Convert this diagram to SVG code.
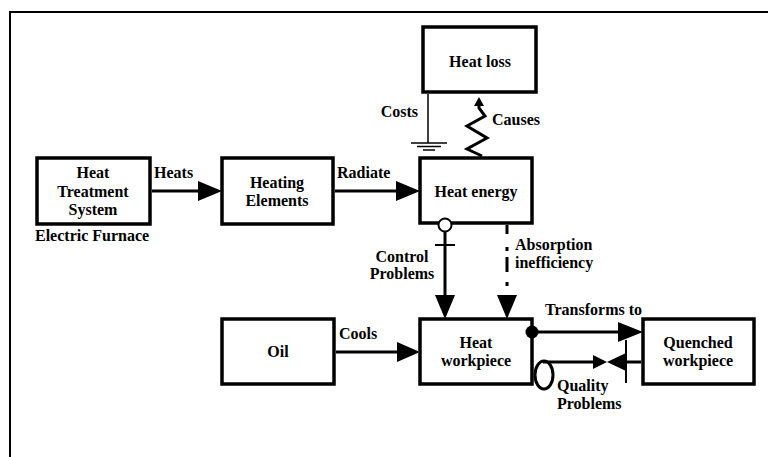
<svg xmlns="http://www.w3.org/2000/svg" width="768" height="457" viewBox="0 0 768 457">
<style>
.box{fill:#fff;stroke:#000;stroke-width:3.5}
.ln{fill:none;stroke:#000;stroke-width:3}
.t{font-family:'Liberation Serif','Times New Roman','DejaVu Serif',serif;font-weight:bold;font-size:16px;fill:#000}
.m{text-anchor:middle}
.ah{fill:#000}
</style>
<rect width="768" height="457" fill="#fff"/>
<path d="M10,457 V12 H768" fill="none" stroke="#000" stroke-width="2"/>

<g id="heat-treatment-system">
  <rect class="box" x="37" y="158" width="113" height="66"/>
  <text class="t m" x="93" y="178">Heat</text>
  <text class="t m" x="93" y="197">Treatment</text>
  <text class="t m" x="93" y="215">System</text>
  <text class="t" x="35" y="241">Electric Furnace</text>
</g>
<g id="heating-elements">
  <rect class="box" x="222" y="158" width="111" height="66"/>
  <text class="t m" x="277" y="188">Heating</text>
  <text class="t m" x="277" y="206">Elements</text>
</g>
<g id="heat-energy">
  <rect class="box" x="420" y="158" width="112" height="65"/>
  <text class="t m" x="476" y="197">Heat energy</text>
</g>
<g id="heat-loss">
  <rect class="box" x="423" y="27" width="113" height="65"/>
  <text class="t m" x="480" y="67">Heat loss</text>
</g>
<g id="oil">
  <rect class="box" x="222" y="319" width="112" height="65"/>
  <text class="t m" x="278" y="357">Oil</text>
</g>
<g id="heat-workpiece">
  <rect class="box" x="420" y="319" width="112" height="65"/>
  <text class="t m" x="476" y="348">Heat</text>
  <text class="t m" x="476" y="366">workpiece</text>
</g>
<g id="quenched-workpiece">
  <rect class="box" x="643" y="319" width="111" height="65"/>
  <text class="t m" x="698" y="348">Quenched</text>
  <text class="t m" x="698" y="366">workpiece</text>
</g>

<g id="connectors">
  <!-- Heats -->
  <line class="ln" x1="152" y1="191" x2="200" y2="191"/>
  <polygon class="ah" points="198,181 222,191 198,201"/>
  <text class="t" x="154" y="178">Heats</text>
  <!-- Radiate -->
  <line class="ln" x1="335" y1="191" x2="398" y2="191"/>
  <polygon class="ah" points="396,181 420,191 396,201"/>
  <text class="t" x="337" y="178">Radiate</text>
  <!-- Costs ground -->
  <line x1="428" y1="94" x2="428" y2="143" stroke="#000" stroke-width="1.5"/>
  <line x1="411" y1="143" x2="447" y2="143" stroke="#000" stroke-width="1.5"/>
  <line x1="417" y1="146.5" x2="441" y2="146.5" stroke="#000" stroke-width="1.5"/>
  <line x1="423" y1="150" x2="435" y2="150" stroke="#000" stroke-width="1.5"/>
  <text class="t" x="418" y="117" text-anchor="end">Costs</text>
  <!-- Causes zigzag -->
  <polyline class="ln" points="482,156 467,149 487,138 467,126 485,116 479,108 479,103" stroke-width="2.5"/>
  <polygon class="ah" points="474,106 479,97 484,106"/>
  <text class="t" x="492" y="125">Causes</text>
  <!-- Control Problems -->
  <line class="ln" x1="445" y1="231" x2="445" y2="297"/>
  <circle cx="445" cy="225" r="6.5" fill="#fff" stroke="#000" stroke-width="2"/>
  <line x1="435" y1="245" x2="455" y2="245" stroke="#000" stroke-width="2"/>
  <polygon class="ah" points="435,295 455,295 445,319"/>
  <text class="t m" x="402" y="262">Control</text>
  <text class="t m" x="402" y="279">Problems</text>
  <!-- Absorption inefficiency -->
  <line class="ln" x1="507" y1="225" x2="507" y2="295" stroke-dasharray="9 13 4 6 15 10 4 20"/>
  <polygon class="ah" points="497,295 517,295 507,319"/>
  <text class="t" x="515" y="250">Absorption</text>
  <text class="t" x="515" y="268">inefficiency</text>
  <!-- Cools -->
  <line class="ln" x1="336" y1="352" x2="399" y2="352"/>
  <polygon class="ah" points="397,342 420,352 397,362"/>
  <text class="t" x="339" y="339">Cools</text>
  <!-- Transforms to -->
  <line class="ln" x1="532" y1="332" x2="620" y2="332"/>
  <circle cx="532" cy="332" r="6.5" fill="#000"/>
  <polygon class="ah" points="618,322 643,332 618,342"/>
  <text class="t" x="545" y="315">Transforms to</text>
  <!-- Quality Problems -->
  <line class="ln" x1="543" y1="362" x2="595" y2="362"/>
  <ellipse cx="544" cy="375" rx="9" ry="14" fill="none" stroke="#000" stroke-width="3"/>
  <polygon class="ah" points="593,355 607,362 593,369"/>
  <polygon class="ah" points="626,353 607,362 626,371"/>
  <line class="ln" x1="626" y1="362" x2="641" y2="362"/>
  <line x1="626" y1="340" x2="626" y2="383" stroke="#000" stroke-width="2"/>
  <text class="t" x="557" y="391">Quality</text>
  <text class="t" x="557" y="409">Problems</text>
</g>
</svg>
